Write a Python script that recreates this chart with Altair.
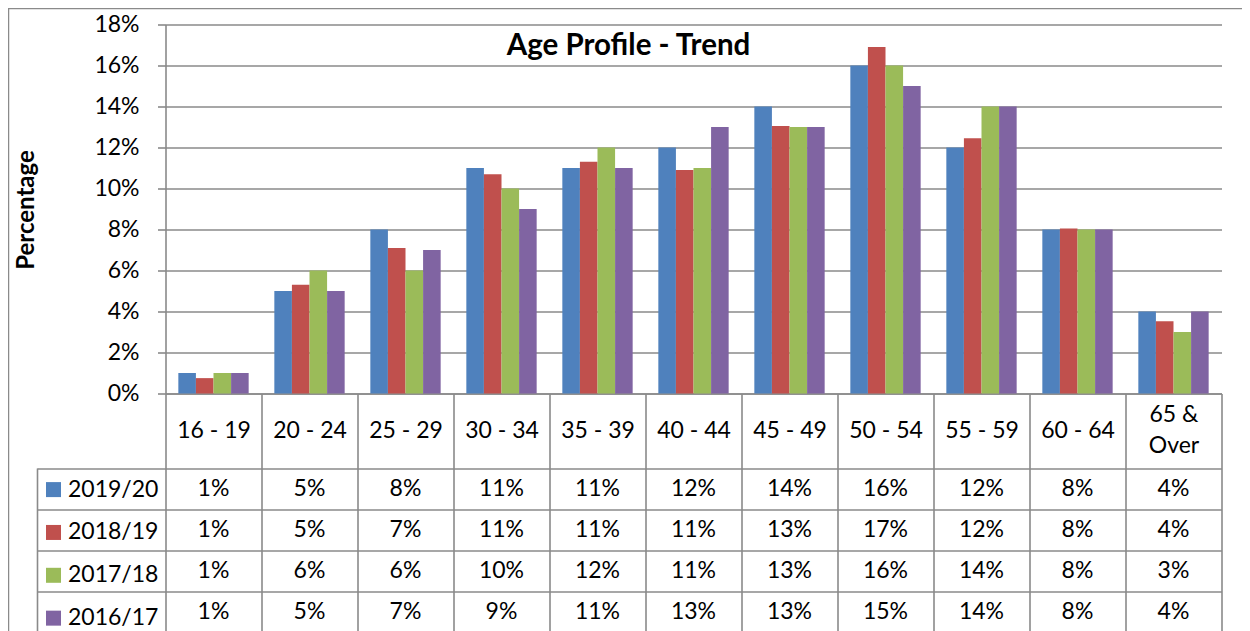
import altair as alt
import pandas as pd

# ---- data ----
categories = ["16 - 19", "20 - 24", "25 - 29", "30 - 34", "35 - 39", "40 - 44",
              "45 - 49", "50 - 54", "55 - 59", "60 - 64", "65 & Over"]
series_names = ["2019/20", "2018/19", "2017/18", "2016/17"]
v_2019_20 = [1, 5, 8, 11, 11, 12, 14, 16, 12, 8, 4]
v_2018_19 = [0.75, 5.3, 7.1, 10.7, 11.3, 10.9, 13.05, 16.9, 12.45, 8.05, 3.52]
v_2017_18 = [1, 6, 6, 10, 12, 11, 13, 16, 14, 8, 3]
v_2016_17 = [1, 5, 7, 9, 11, 13, 13, 15, 14, 8, 4]
colors = ["#4F81BD", "#C0504D", "#9BBB59", "#8064A2"]
y_ticks = [0, 0.02, 0.04, 0.06, 0.08, 0.10, 0.12, 0.14, 0.16, 0.18]

rows = []
for s, vals in zip(series_names, [v_2019_20, v_2018_19, v_2017_18, v_2016_17]):
    for c, v in zip(categories, vals):
        rows.append({"category": c, "series": s, "value": v / 100})
df = pd.DataFrame(rows)
series_df = pd.DataFrame({"series": series_names})

# ---- layout ----
W = 1056
H = 609
BAR_H = 369
HEADER_BOTTOM = 443.5
TABLE_BOTTOM = 608.5
LEG_W = 128.5
GRID = "#8a8a8a"
LW = 1.6
FONT = "Lato"
FS = 23

x_scale = alt.Scale(domain=categories, paddingInner=0, paddingOuter=0)
x_axis = alt.Axis(
    orient="bottom", offset=BAR_H - H, tickBand="extent", tickSize=262,
    tickColor=GRID, tickWidth=LW, domainColor=GRID, domainWidth=LW,
    labelFontSize=FS, labelColor="black", labelAngle=0,
    labelBaseline={"condition": {"test": "datum.value == '65 & Over'", "value": "line-bottom"},
                   "value": "middle"},
    labelPadding=406 - (BAR_H + 262), labelLineHeight=31,
    labelExpr="datum.value == '65 & Over' ? ['65 &', 'Over'] : datum.label",
    grid=False, title=None,
)

table_scale = alt.Scale(domain=series_names, range=[HEADER_BOTTOM, TABLE_BOTTOM],
                        paddingInner=0, paddingOuter=0)

bars = alt.Chart(df).mark_bar().encode(
    x=alt.X("category:N", sort=categories, scale=x_scale, axis=x_axis),
    xOffset=alt.XOffset("series:N", sort=series_names,
                        scale=alt.Scale(domain=series_names, paddingOuter=0.73, paddingInner=0)),
    y=alt.Y("value:Q",
            scale=alt.Scale(domain=[0, 0.18], range=[BAR_H, 0], nice=False, zero=True),
            axis=alt.Axis(values=y_ticks, format=".0%", grid=True, gridColor=GRID, gridWidth=LW,
                          tickSize=8, tickColor=GRID, tickWidth=LW,
                          domainColor=GRID, domainWidth=LW,
                          labelFontSize=FS, labelColor="black", labelPadding=18.5,
                          title="Percentage", titleFontSize=24, titleFontWeight="bold",
                          titleColor="black", titleX=-139, titleY=185, titleAngle=270,
                          titleBaseline="middle", titleAlign="center")),
    color=alt.Color("series:N", sort=series_names,
                    scale=alt.Scale(domain=series_names, range=colors),
                    legend=alt.Legend(orient="none", legendX=-123.5, legendY=453.6,
                                      direction="vertical", title=None,
                                      symbolType="square", symbolSize=225,
                                      symbolStrokeWidth=0, labelFontSize=FS,
                                      labelColor="black", labelOffset=3,
                                      rowPadding=18.85, padding=0)),
)

table_text = alt.Chart(df).mark_text(fontSize=FS, color="black", baseline="middle").encode(
    x=alt.X("category:N", sort=categories, scale=x_scale, axis=x_axis),
    y=alt.Y("series:N", sort=series_names, scale=table_scale,
            axis=alt.Axis(orient="left", tickBand="extent", tickSize=LEG_W,
                          tickColor=GRID, tickWidth=LW, grid=True, gridColor=GRID,
                          gridWidth=LW, domain=False, labels=False, title=None)),
    text=alt.Text("value:Q", format=".0%"),
)

legend_frame = alt.Chart(series_df).mark_point(opacity=0).encode(
    y=alt.Y("series:N", sort=series_names, scale=table_scale,
            axis=alt.Axis(orient="left", offset=LEG_W, domain=True, domainColor=GRID,
                          domainWidth=LW, ticks=False, labels=False, grid=False, title=None)),
)

border = alt.Chart(pd.DataFrame({"frame": [0]})).mark_rect(
    fillOpacity=0, stroke=GRID, strokeWidth=1.5
).encode(x=alt.value(-157), x2=alt.value(W + 200), y=alt.value(-16), y2=alt.value(H + 200))

chart = alt.layer(border, bars, table_text, legend_frame).resolve_scale(
    y="independent"
).properties(
    width=W, height=H, autosize="none",
    padding={"left": 157.5, "top": 16.5, "right": 20, "bottom": 0},
    title=alt.TitleParams(text="Age Profile - Trend", fontSize=29.5, fontWeight="bold",
                          font=FONT, color="black", anchor="middle", frame="group",
                          dx=-65, dy=77, offset=0, baseline="alphabetic"),
).configure(font=FONT).configure_view(stroke=None)

chart.save("out.html", embed_options={"renderer": "svg", "actions": False})
